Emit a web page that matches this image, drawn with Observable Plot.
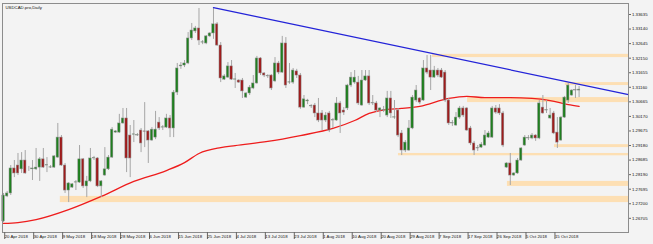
<!DOCTYPE html>
<html><head><meta charset="utf-8">
<script src="https://cdn.jsdelivr.net/npm/d3@7"></script>
<script src="https://cdn.jsdelivr.net/npm/@observablehq/plot@0.6"></script>
<style>
html,body{margin:0;padding:0;background:#f3f3f3;}
#chart svg{display:block;}
</style></head><body><div id="chart"></div>
<script>
const title = "USDCAD.pro,Daily";

const open = [
1.2660,1.2745,1.2755,1.2840,1.2850,1.2837,1.2867,1.2837,1.2837,1.2837,
1.2843,1.2871,1.2850,1.2843,1.2843,1.2877,1.2945,1.2850,1.2765,1.2775,
1.2792,1.2792,1.2871,1.2779,1.2796,1.2874,1.2874,1.2779,1.2816,1.2837,
1.2877,1.2962,1.2962,1.2993,1.3010,1.2952,1.2955,1.2952,1.2969,1.2966,
1.2966,1.2935,1.2945,1.2996,1.2979,1.2979,1.3010,1.2976,1.3098,1.3187,
1.3190,1.3197,1.3282,1.3306,1.3316,1.3268,1.3265,1.3289,1.3299,1.3330,
1.3258,1.3142,1.3149,1.3187,1.3142,1.3139,1.3139,1.3081,1.3095,1.3112,
1.3129,1.3214,1.3163,1.3153,1.3156,1.3136,1.3197,1.3166,1.3265,1.3132,
1.3132,1.3170,1.3156,1.3047,1.3068,1.3051,1.3054,1.3027,1.3027,1.3003,
1.3027,1.3003,1.3003,1.3061,1.3037,1.3044,1.3122,1.3132,1.3132,1.3054,
1.3139,1.3153,1.3061,1.3061,1.3037,1.3037,1.3020,1.3078,1.3013,1.3037,
1.2959,1.2901,1.2901,1.2976,1.3071,1.3078,1.3071,1.3180,1.3173,1.3149,
1.3173,1.3173,1.3166,1.3071,1.2993,1.2986,1.3013,1.3044,1.3044,1.2976,
1.2925,1.2908,1.2911,1.2918,1.2945,1.2945,1.3044,1.3044,1.3027,1.2843,
1.2857,1.2816,1.2823,1.2867,1.2918,1.2942,1.2942,1.2952,1.2942,1.3047,
1.3037,1.3010,1.3027,1.2962,1.2935,1.3013,1.3071,1.3088,1.3105,1.3105
];
const high = [
1.2755,1.2762,1.2850,1.2867,1.2891,1.2894,1.2901,1.2847,1.2867,1.2908,
1.2877,1.2908,1.2877,1.2850,1.2884,1.2993,1.2952,1.2857,1.2792,1.2789,
1.2799,1.2918,1.2874,1.2813,1.2908,1.2881,1.2877,1.2799,1.2911,1.2884,
1.2979,1.2969,1.3024,1.3044,1.3044,1.2986,1.3003,1.2959,1.2976,1.3064,
1.2969,1.2979,1.3034,1.3013,1.2986,1.3024,1.3020,1.3105,1.3197,1.3200,
1.3207,1.3302,1.3333,1.3323,1.3384,1.3275,1.3292,1.3302,1.3387,1.3336,
1.3268,1.3159,1.3200,1.3207,1.3163,1.3142,1.3146,1.3098,1.3122,1.3156,
1.3221,1.3217,1.3166,1.3159,1.3159,1.3217,1.3204,1.3289,1.3285,1.3197,
1.3180,1.3177,1.3163,1.3088,1.3075,1.3057,1.3061,1.3078,1.3037,1.3030,
1.3034,1.3010,1.3081,1.3068,1.3047,1.3126,1.3166,1.3173,1.3153,1.3173,
1.3173,1.3173,1.3088,1.3068,1.3047,1.3051,1.3102,1.3102,1.3071,1.3044,
1.2969,1.2935,1.3003,1.3088,1.3122,1.3081,1.3207,1.3224,1.3224,1.3187,
1.3180,1.3180,1.3173,1.3078,1.3003,1.3030,1.3051,1.3051,1.3047,1.2983,
1.2932,1.2918,1.2928,1.2969,1.2966,1.3051,1.3054,1.3057,1.3034,1.2860,
1.2891,1.2826,1.2874,1.2911,1.2952,1.2952,1.2959,1.2955,1.3071,1.3088,
1.3071,1.3044,1.3034,1.3013,1.3017,1.3085,1.3129,1.3108,1.3122,1.3119
];
const low = [
1.2656,1.2741,1.2748,1.2809,1.2816,1.2823,1.2820,1.2830,1.2799,1.2833,
1.2796,1.2840,1.2826,1.2840,1.2840,1.2874,1.2847,1.2755,1.2724,1.2772,
1.2765,1.2789,1.2772,1.2741,1.2792,1.2867,1.2775,1.2741,1.2813,1.2833,
1.2874,1.2959,1.2959,1.2990,1.2826,1.2809,1.2928,1.2949,1.2894,1.2911,
1.2857,1.2932,1.2938,1.2969,1.2969,1.2976,1.2945,1.2945,1.3088,1.3177,
1.3183,1.3193,1.3275,1.3299,1.3258,1.3261,1.3261,1.3285,1.3279,1.3255,
1.3132,1.3139,1.3146,1.3139,1.3112,1.3129,1.3078,1.3078,1.3088,1.3108,
1.3126,1.3156,1.3149,1.3146,1.3105,1.3132,1.3159,1.3163,1.3112,1.3126,
1.3126,1.3146,1.3041,1.3044,1.3057,1.3044,1.3013,1.2996,1.2969,1.2996,
1.2962,1.2976,1.3000,1.2959,1.3020,1.3037,1.3115,1.3126,1.3054,1.3051,
1.3136,1.3054,1.3054,1.3030,1.3013,1.3030,1.3013,1.3010,1.3007,1.2945,
1.2884,1.2894,1.2898,1.2972,1.3064,1.3057,1.3068,1.3159,1.3105,1.3146,
1.3149,1.3146,1.3064,1.2986,1.2983,1.2983,1.3007,1.3013,1.2966,1.2918,
1.2884,1.2898,1.2908,1.2915,1.2942,1.2942,1.3024,1.3020,1.2911,1.2840,
1.2782,1.2813,1.2820,1.2864,1.2915,1.2935,1.2938,1.2932,1.2938,1.3024,
1.3027,1.3007,1.2955,1.2908,1.2932,1.3010,1.3061,1.3085,1.3078,1.3081
];
const close = [
1.2748,1.2755,1.2840,1.2823,1.2823,1.2867,1.2823,1.2837,1.2840,1.2843,
1.2871,1.2843,1.2851,1.2844,1.2881,1.2945,1.2850,1.2765,1.2789,1.2786,
1.2793,1.2871,1.2779,1.2796,1.2874,1.2875,1.2779,1.2796,1.2837,1.2877,
1.2972,1.2966,1.2993,1.3010,1.2874,1.2874,1.2956,1.2953,1.2925,1.2965,
1.2935,1.2972,1.2972,1.2976,1.2980,1.3010,1.2976,1.3098,1.3180,1.3190,
1.3197,1.3282,1.3309,1.3316,1.3275,1.3269,1.3289,1.3299,1.3330,1.3258,
1.3146,1.3153,1.3187,1.3142,1.3143,1.3132,1.3102,1.3095,1.3115,1.3129,
1.3214,1.3163,1.3156,1.3154,1.3112,1.3197,1.3166,1.3265,1.3122,1.3133,
1.3173,1.3156,1.3047,1.3075,1.3071,1.3052,1.3027,1.3003,1.3003,1.3020,
1.2969,1.3004,1.3061,1.3027,1.3030,1.3122,1.3149,1.3149,1.3061,1.3139,
1.3153,1.3061,1.3062,1.3037,1.3044,1.3038,1.3078,1.3027,1.3014,1.2952,
1.2901,1.2928,1.2976,1.3081,1.3105,1.3064,1.3180,1.3166,1.3149,1.3173,
1.3156,1.3149,1.3071,1.2993,1.2994,1.3013,1.3044,1.3020,1.2969,1.2925,
1.2901,1.2909,1.2921,1.2952,1.2959,1.3044,1.3030,1.3027,1.2918,1.2857,
1.2816,1.2823,1.2867,1.2908,1.2945,1.2943,1.2952,1.2942,1.3061,1.3027,
1.3038,1.3020,1.2959,1.2928,1.3013,1.3081,1.3122,1.3105,1.3106,1.3108
];

const dateTickIdx = [0,8,16,24,32,40,48,56,64,72,80,88,96,104,112,120,128,136,144,152];
const dateLabels = ["20 Apr 2018","30 Apr 2018","9 May 2018","18 May 2018","28 May 2018","6 Jun 2018","15 Jun 2018","25 Jun 2018","4 Jul 2018","13 Jul 2018","23 Jul 2018","1 Aug 2018","10 Aug 2018","20 Aug 2018","29 Aug 2018","7 Sep 2018","17 Sep 2018","26 Sep 2018","5 Oct 2018","15 Oct 2018"];
const priceTicks = [1.33635,1.33140,1.32645,1.32150,1.31655,1.31160,1.30665,1.30170,1.29675,1.29180,1.28685,1.28190,1.27695,1.27200,1.26705];

const maIdx = [0,4,9,18,27,36,45,50,54,60,64,73,82,91,97,101,106,110,115,123,128,133,137,146,151,156,159];
const maVal = [1.2653,1.2656,1.2666,1.2700,1.2745,1.2796,1.2833,1.2860,1.2891,1.2911,1.2918,1.2932,1.2952,1.2976,1.3003,1.3027,1.3041,1.3044,1.3051,1.3078,1.3085,1.3081,1.3081,1.3078,1.3071,1.3057,1.3051];

const trendIdx = [58, 172.65];
const trendVal = [1.3387, 1.3091];

const zoneStart = [118.5, 155.2, 128.2, 152.2, 109.1, 139.2, 15.7];
const zoneLow  = [1.3217, 1.3122, 1.3064, 1.2911, 1.2883, 1.2779, 1.2724];
const zoneHigh = [1.3228, 1.3132, 1.3081, 1.2921, 1.2891, 1.2796, 1.2745];

const xEnd = 172.65;

const bars = open.map((o, i) => ({i, o, h: high[i], l: low[i], c: close[i]}));
const zones = zoneStart.map((s, k) => ({x1: s, x2: xEnd, y1: zoneLow[k], y2: zoneHigh[k]}));
const ma = maIdx.map((x, k) => ({x, y: maVal[k]}));
const trend = trendIdx.map((x, k) => ({x, y: trendVal[k]}));
const labelMap = new Map(dateTickIdx.map((d, k) => [d, dateLabels[k]]));

const chart = Plot.plot({
  width: 653, height: 244,
  marginLeft: 2, marginRight: 25, marginTop: 3, marginBottom: 12,
  style: {background: "#f3f3f3", fontFamily: "'Liberation Sans', Arial, sans-serif", fontSize: "4.3px", color: "#111"},
  x: {domain: [-0.28, xEnd], axis: null},
  y: {domain: [1.26223, 1.34009], axis: null},
  marks: [
    Plot.rect(zones, {x1: "x1", x2: "x2", y1: "y1", y2: "y2", fill: "#fddfb3"}),
    Plot.line(ma, {x: "x", y: "y", stroke: "#ee1c1c", strokeWidth: 1.3, curve: "monotone-x"}),
    Plot.ruleX(bars, {x: "i", y1: "l", y2: "h", stroke: "#a6a6a6", strokeWidth: 1}),
    Plot.rect(bars, {x1: d => d.i - 0.34, x2: d => d.i + 0.34, y1: d => Math.min(d.o, d.c), y2: d => Math.max(d.o, d.c),
      fill: d => d.c >= d.o ? "#1f7f1f" : "#9e1c1c", stroke: "#8f8f8f", strokeWidth: 0.5}),
    Plot.line(trend, {x: "x", y: "y", stroke: "#2323d8", strokeWidth: 1.2}),
    Plot.frame({stroke: "#8c8c8c"}),
    Plot.axisY(priceTicks, {anchor: "right", tickSize: 2, tickPadding: 1.5, tickFormat: d => d.toFixed(5), stroke: "#666"}),
    Plot.axisX(dateTickIdx, {anchor: "bottom", tickSize: 7, tickPadding: -5, tickFormat: d => labelMap.get(d), textAnchor: "start", dx: 1.2, stroke: "#666"}),
    Plot.text([title], {frameAnchor: "top-left", dx: 3, dy: 2.5, text: d => d, lineAnchor: "top", textAnchor: "start", fill: "#111"})
  ]
});
document.getElementById("chart").appendChild(chart);
</script>
</body></html>
